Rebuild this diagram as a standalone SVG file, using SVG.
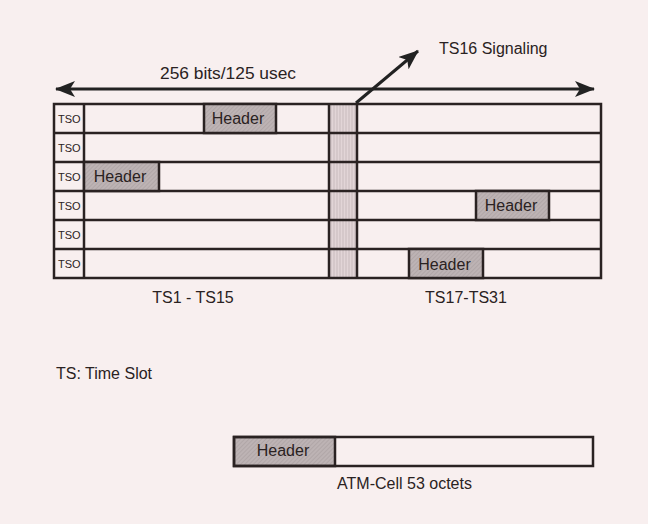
<svg xmlns="http://www.w3.org/2000/svg" width="648" height="524" viewBox="0 0 648 524">
<defs>
<pattern id="hatch" width="3" height="3" patternUnits="userSpaceOnUse" patternTransform="rotate(45)">
<rect width="3" height="3" fill="#bdb3b4"/>
<line x1="0" y1="0" x2="0" y2="3" stroke="#a59b9c" stroke-width="1"/>
</pattern>
<pattern id="vstripe" width="3" height="3" patternUnits="userSpaceOnUse">
<rect width="3" height="3" fill="#e2d5d7"/>
<line x1="1" y1="0" x2="1" y2="3" stroke="#c9bbbd" stroke-width="1"/>
</pattern>
<marker id="ah" viewBox="0 0 20 16" refX="19" refY="8" markerWidth="20" markerHeight="16" orient="auto-start-reverse" markerUnits="userSpaceOnUse">
<path d="M0,0 L20,8 L0,16 L5,8 z" fill="#222"/>
</marker>
</defs>
<style>
text{font-family:"Liberation Sans",Arial,sans-serif;fill:#2a2222}
.cell{fill:none;stroke:#2a2222;stroke-width:2.5}
.hdr{fill:url(#hatch);stroke:#2a2222;stroke-width:2.5}
.tso{font-size:11px}
.ht{font-size:16px;text-anchor:middle}
.lbl{font-size:16px}
.conn{stroke:#222;stroke-width:3;fill:none}
</style>
<rect width="648" height="524" fill="#f8efef"/>
<g id="connectors">
<line class="conn" x1="56" y1="89" x2="594" y2="89" marker-start="url(#ah)" marker-end="url(#ah)"/>
<line class="conn" x1="356" y1="103" x2="418" y2="51" marker-end="url(#ah)"/>
</g>
<g id="label-rate"><text class="lbl" x="160" y="79" textLength="136" lengthAdjust="spacingAndGlyphs">256 bits/125 usec</text></g>
<g id="label-ts16"><text class="lbl" x="439" y="54">TS16 Signaling</text></g>
<g id="frame">
<rect x="329" y="104" width="28" height="174" fill="url(#vstripe)"/>
<rect class="cell" x="54" y="104" width="547" height="174"/>
<line class="cell" x1="54" y1="133" x2="601" y2="133"/>
<line class="cell" x1="54" y1="162" x2="601" y2="162"/>
<line class="cell" x1="54" y1="191" x2="601" y2="191"/>
<line class="cell" x1="54" y1="220" x2="601" y2="220"/>
<line class="cell" x1="54" y1="249" x2="601" y2="249"/>
<line class="cell" x1="84" y1="104" x2="84" y2="278"/>
<line class="cell" x1="329" y1="104" x2="329" y2="278"/>
<line class="cell" x1="357" y1="104" x2="357" y2="278"/>
<text class="tso" x="58" y="123">TSO</text>
<text class="tso" x="58" y="152">TSO</text>
<text class="tso" x="58" y="181">TSO</text>
<text class="tso" x="58" y="210">TSO</text>
<text class="tso" x="58" y="239">TSO</text>
<text class="tso" x="58" y="268">TSO</text>
</g>
<g id="header-1"><rect class="hdr" x="204" y="104" width="72" height="29"/><text class="ht" x="238" y="124">Header</text></g>
<g id="header-2"><rect class="hdr" x="84" y="162" width="75" height="29"/><text class="ht" x="120" y="182">Header</text></g>
<g id="header-3"><rect class="hdr" x="476" y="191" width="73" height="29"/><text class="ht" x="511" y="211">Header</text></g>
<g id="header-4"><rect class="hdr" x="409" y="249" width="74" height="29"/><text class="ht" x="444.5" y="270">Header</text></g>
<g id="label-ts1"><text class="lbl" x="193" y="303" text-anchor="middle">TS1 - TS15</text></g>
<g id="label-ts17"><text class="lbl" x="466" y="303" text-anchor="middle">TS17-TS31</text></g>
<g id="legend"><text class="lbl" x="56" y="379">TS: Time Slot</text></g>
<g id="atm-cell">
<rect class="hdr" x="234" y="437" width="101" height="29"/>
<rect class="cell" x="234" y="437" width="359" height="29"/>
<text class="ht" x="283" y="456">Header</text>
<text class="lbl" x="404.5" y="489" text-anchor="middle">ATM-Cell 53 octets</text>
</g>
</svg>
